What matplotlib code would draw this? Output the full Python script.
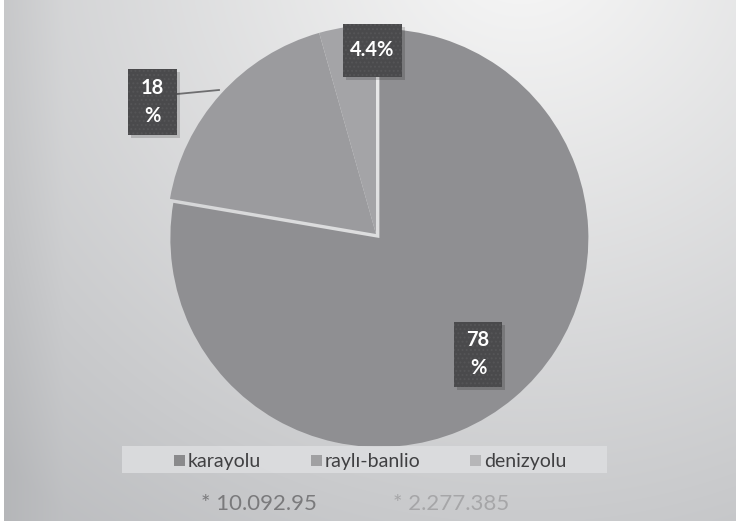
import numpy as np
import matplotlib
matplotlib.use("Agg")
import matplotlib.pyplot as plt
from matplotlib.patches import Rectangle

plt.rcParams['font.family'] = ['Lato', 'DejaVu Sans']
plt.rcParams['hatch.linewidth'] = 0.9

# ---- data ----
categories = ["karayolu", "raylı-banlio", "denizyolu"]
shares = [78, 18, 4.4]
labels = ["78\n%", "18\n%", "4.4%"]
footnotes = ["* 10.092.95", "* 2.277.385"]

slice_colors = ["#8f8f92", "#9b9b9e", "#a4a4a7"]
legend_colors = ["#8a8a8c", "#a0a0a2", "#b6b6b8"]
foot_colors = ["#7a7a7c", "#a6a6a8"]

W, H = 736, 524
fig = plt.figure(figsize=(W / 100, H / 100), dpi=100)
fig.patch.set_facecolor("white")

# ---- background gradient ----
bg = fig.add_axes([4 / W, 3 / H, (W - 4) / W, (H - 3) / H])
bg.set_axis_off()
yy, xx = np.mgrid[0:H, 0:W]
d = np.sqrt(((xx - 520) / 1.0) ** 2 + ((yy + 60) / 0.95) ** 2)
t = np.clip((d - 60) / 700, 0, 1)
c0 = np.array([0.955, 0.955, 0.955])
c1 = np.array([0.745, 0.75, 0.76])
img = c0[None, None, :] * (1 - t[..., None]) + c1[None, None, :] * t[..., None]
edge = np.clip(1 - xx / 60.0, 0, 1)[..., None] * 0.035
img = np.clip(img - edge, 0, 1)
bg.imshow(img, extent=[0, 1, 0, 1], aspect="auto", origin="upper")
bg.set_xlim(0, 1)
bg.set_ylim(0, 1)

# ---- pie ----
cx, cy, r = 376, 234, 209
ax = fig.add_axes([(cx - r) / W, (H - cy - r) / H, 2 * r / W, 2 * r / H])
ax.set_axis_off()
wedges, _ = ax.pie(shares, colors=slice_colors, startangle=90, counterclock=False,
                   explode=[0.025, 0, 0], radius=1.0,
                   wedgeprops=dict(linewidth=0, clip_on=False))
ax.set_xlim(-1, 1)
ax.set_ylim(-1, 1)
ax.set_aspect("auto")

def px(x, y):
    return (x - cx) / r, (cy - y) / r

# leader line for 18%
p0, p1 = px(177, 94), px(219, 90)
ax.plot([p0[0], p1[0]], [p0[1], p1[1]], color="#6e6e70", lw=1.3, zorder=3,
        clip_on=False)

# label boxes: (left, top, right, bottom) in pixels
boxes = [(454, 322, 502, 387), (128, 69, 177, 135), (343, 24, 402, 77)]
for lab, (l, t_, rr, b) in zip(labels, boxes):
    x0, y0 = px(l, b)
    w = (rr - l) / r
    h = (b - t_) / r
    ax.add_patch(Rectangle((x0 + 3 / r, y0 - 3 / r), w, h, facecolor="black",
                           alpha=0.16, linewidth=0, zorder=4, clip_on=False))
    ax.add_patch(Rectangle((x0, y0), w, h, facecolor="#4a4a4c",
                           edgecolor="#555557", linewidth=0, hatch="....",
                           zorder=5, clip_on=False))
    ax.text(x0 + w / 2, y0 + h / 2, lab, ha="center", va="center",
            fontsize=14.5, fontweight="bold", color="white", linespacing=1.5,
            zorder=6, clip_on=False)

# ---- legend ----
fig.patches.append(Rectangle((122 / W, (H - 473) / H), (607 - 122) / W, 27 / H,
                             transform=fig.transFigure, facecolor="#dcdddf",
                             edgecolor="none", alpha=0.9, zorder=2))
leg_x = [174, 311, 470]
for name, col, lx in zip(categories, legend_colors, leg_x):
    fig.patches.append(Rectangle((lx / W, (H - 466) / H), 11 / W, 11 / H,
                                 transform=fig.transFigure, facecolor=col,
                                 edgecolor="none", zorder=3))
    fig.text((lx + 14) / W, (H - 461) / H, name, fontsize=14, color="#404042",
             ha="left", va="center", zorder=4)

# ---- footnotes ----
for txt, col, fx in zip(footnotes, foot_colors, [259, 451]):
    fig.text(fx / W, (H - 504) / H, txt, fontsize=16, color=col,
             ha="center", va="center")

fig.savefig("out.png", dpi=100, facecolor=fig.get_facecolor())
